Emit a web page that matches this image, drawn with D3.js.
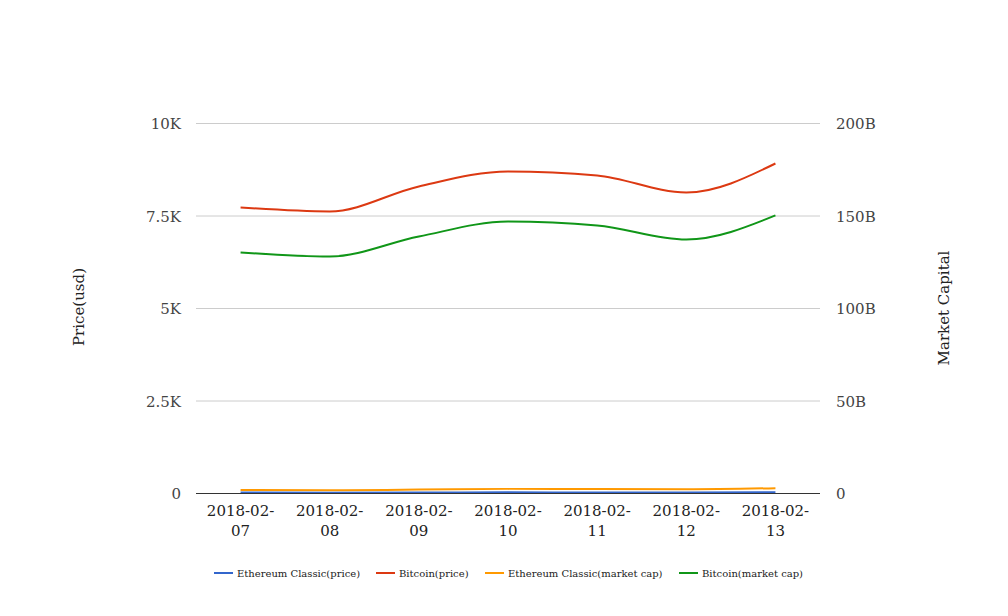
<!DOCTYPE html>
<html><head><meta charset="utf-8">
<script src="https://cdn.jsdelivr.net/npm/d3@7"></script>
<style>body{margin:0;background:#fff}svg{display:block}text{font-family:"DejaVu Serif",serif}</style>
</head><body><svg id="c" width="1008" height="616"></svg>
<script>
const dates = ["2018-02-07","2018-02-08","2018-02-09","2018-02-10","2018-02-11","2018-02-12","2018-02-13"];
const etcPrice = [25, 23, 26, 31, 29, 28, 33];
const btcPrice = [7730, 7622, 8297, 8703, 8595, 8135, 8919];
const etcCap = [1.9e9, 1.8e9, 2.1e9, 2.5e9, 2.4e9, 2.3e9, 2.9e9];
const btcCap = [130.3e9, 128.1e9, 138.9e9, 147.0e9, 144.9e9, 137.3e9, 150.3e9];
const leftTicks = [0, 2500, 5000, 7500, 10000];
const leftLabels = ["0","2.5K","5K","7.5K","10K"];
const rightTicks = [0, 50e9, 100e9, 150e9, 200e9];
const rightLabels = ["0","50B","100B","150B","200B"];
const seriesNames = ["Ethereum Classic(price)","Bitcoin(price)","Ethereum Classic(market cap)","Bitcoin(market cap)"];
const colors = ["#3366cc","#dc3912","#ff9900","#109618"];

const svg = d3.select("#c");
const L=196,R=820,T=123.5,B=493.5;
const x = d3.scaleBand().domain(dates).range([L,R]);
const yL = d3.scaleLinear().domain([0,10000]).range([B,T]);
const yR = d3.scaleLinear().domain([0,200e9]).range([B,T]);

// grid
svg.append("g").selectAll("line").data(leftTicks.slice(1)).join("line")
  .attr("x1",L).attr("x2",R).attr("y1",d=>yL(d)).attr("y2",d=>yL(d))
  .attr("stroke","#cccccc").attr("stroke-width",1);
svg.append("g").selectAll("text").data(leftTicks).join("text")
  .attr("x",181).attr("y",d=>yL(d)+5.5).attr("text-anchor","end")
  .attr("font-size",15).attr("fill","#444").text((d,i)=>leftLabels[i]);
svg.append("g").selectAll("text").data(rightTicks).join("text")
  .attr("x",836).attr("y",d=>yR(d)+5.5).attr("text-anchor","start")
  .attr("font-size",15).attr("fill","#444").text((d,i)=>rightLabels[i]);

// x labels
const xl = svg.append("g").selectAll("text").data(dates).join("text")
  .attr("text-anchor","middle").attr("font-size",15).attr("fill","#222");
xl.append("tspan").attr("x",d=>x(d)+x.bandwidth()/2).attr("y",516).text(d=>d.slice(0,8));
xl.append("tspan").attr("x",d=>x(d)+x.bandwidth()/2).attr("y",536).text(d=>d.slice(8));

// axis titles
svg.append("text").attr("transform","translate(84,307) rotate(-90)").attr("text-anchor","middle")
  .attr("font-size",15).attr("fill","#222").text("Price(usd)");
svg.append("text").attr("transform","translate(949,308) rotate(-90)").attr("text-anchor","middle")
  .attr("font-size",15).attr("fill","#222").text("Market Capital");

// lines
const cx = d=>x(d)+x.bandwidth()/2;
const series = [
  {v:etcPrice,y:yL},{v:btcPrice,y:yL},{v:etcCap,y:yR},{v:btcCap,y:yR}
];
const order=[2,3,1,0];
order.forEach(i=>{
  const s=series[i];
  const line=d3.line().x((d,j)=>cx(dates[j])).y(d=>s.y(d)).curve(d3.curveMonotoneX);
  svg.append("path").attr("d",line(s.v)).attr("fill","none").attr("stroke",colors[i]).attr("stroke-width",2);
});

// baseline
svg.append("line").attr("x1",L).attr("x2",R).attr("y1",B).attr("y2",B).attr("stroke","#333").attr("stroke-width",1);

// legend
const legX=[214,376,485,679];
const lg=svg.append("g").selectAll("g").data(seriesNames).join("g")
  .attr("transform",(d,i)=>`translate(${legX[i]},573)`);
lg.append("line").attr("x1",0).attr("x2",19).attr("y1",0).attr("y2",0).attr("stroke",(d,i)=>colors[i]).attr("stroke-width",2);
lg.append("text").attr("x",23).attr("y",4).attr("font-size",10).attr("fill","#222").text(d=>d);
</script></body></html>
